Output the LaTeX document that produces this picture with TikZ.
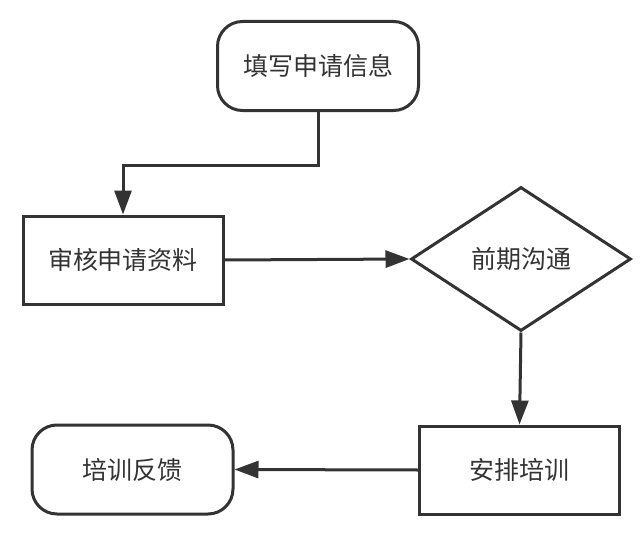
\documentclass[tikz,border=0pt]{standalone}
\usepackage{fontspec}
\newfontfamily\cjk{Noto Sans CJK SC}
\usetikzlibrary{shapes.geometric,arrows.meta}
\definecolor{linegray}{HTML}{333333}

\begin{document}
\begin{tikzpicture}[x=1pt,y=-1pt,
  every node/.style={font=\cjk\fontsize{25}{25}\selectfont, text=linegray, inner sep=0pt},
  term/.style={draw=linegray, line width=3pt, rounded corners=25pt, minimum width=201pt, minimum height=89pt},
  proc/.style={draw=linegray, line width=3pt, minimum width=200pt, minimum height=88pt},
  decide/.style={draw=linegray, line width=3pt, diamond, minimum width=220pt, minimum height=144pt},
  conn/.style={draw=linegray, line width=3pt, -{Triangle[length=24pt,width=17pt]}}]
\useasboundingbox (0,0) rectangle (643,535);
% nodes
\node [term] (fill) at (318,66) {填写申请信息};
\node [proc] (check) at (123,260) {审核申请资料};
\node [decide] (talk) at (521,259) {前期沟通};
\node [proc] (train) at (519.5,470) {安排培训};
\node [term] (back) at (132.5,469.5) {培训反馈};
% connectors
\draw [conn] (fill.south) -- ++(0,53) -| (check.north);
\draw [conn] (check.east) -- (talk.west);
\draw [conn] (talk.south) -- (train.north);
\draw [conn] (train.west) -- (back.east);
\end{tikzpicture}
\end{document}
